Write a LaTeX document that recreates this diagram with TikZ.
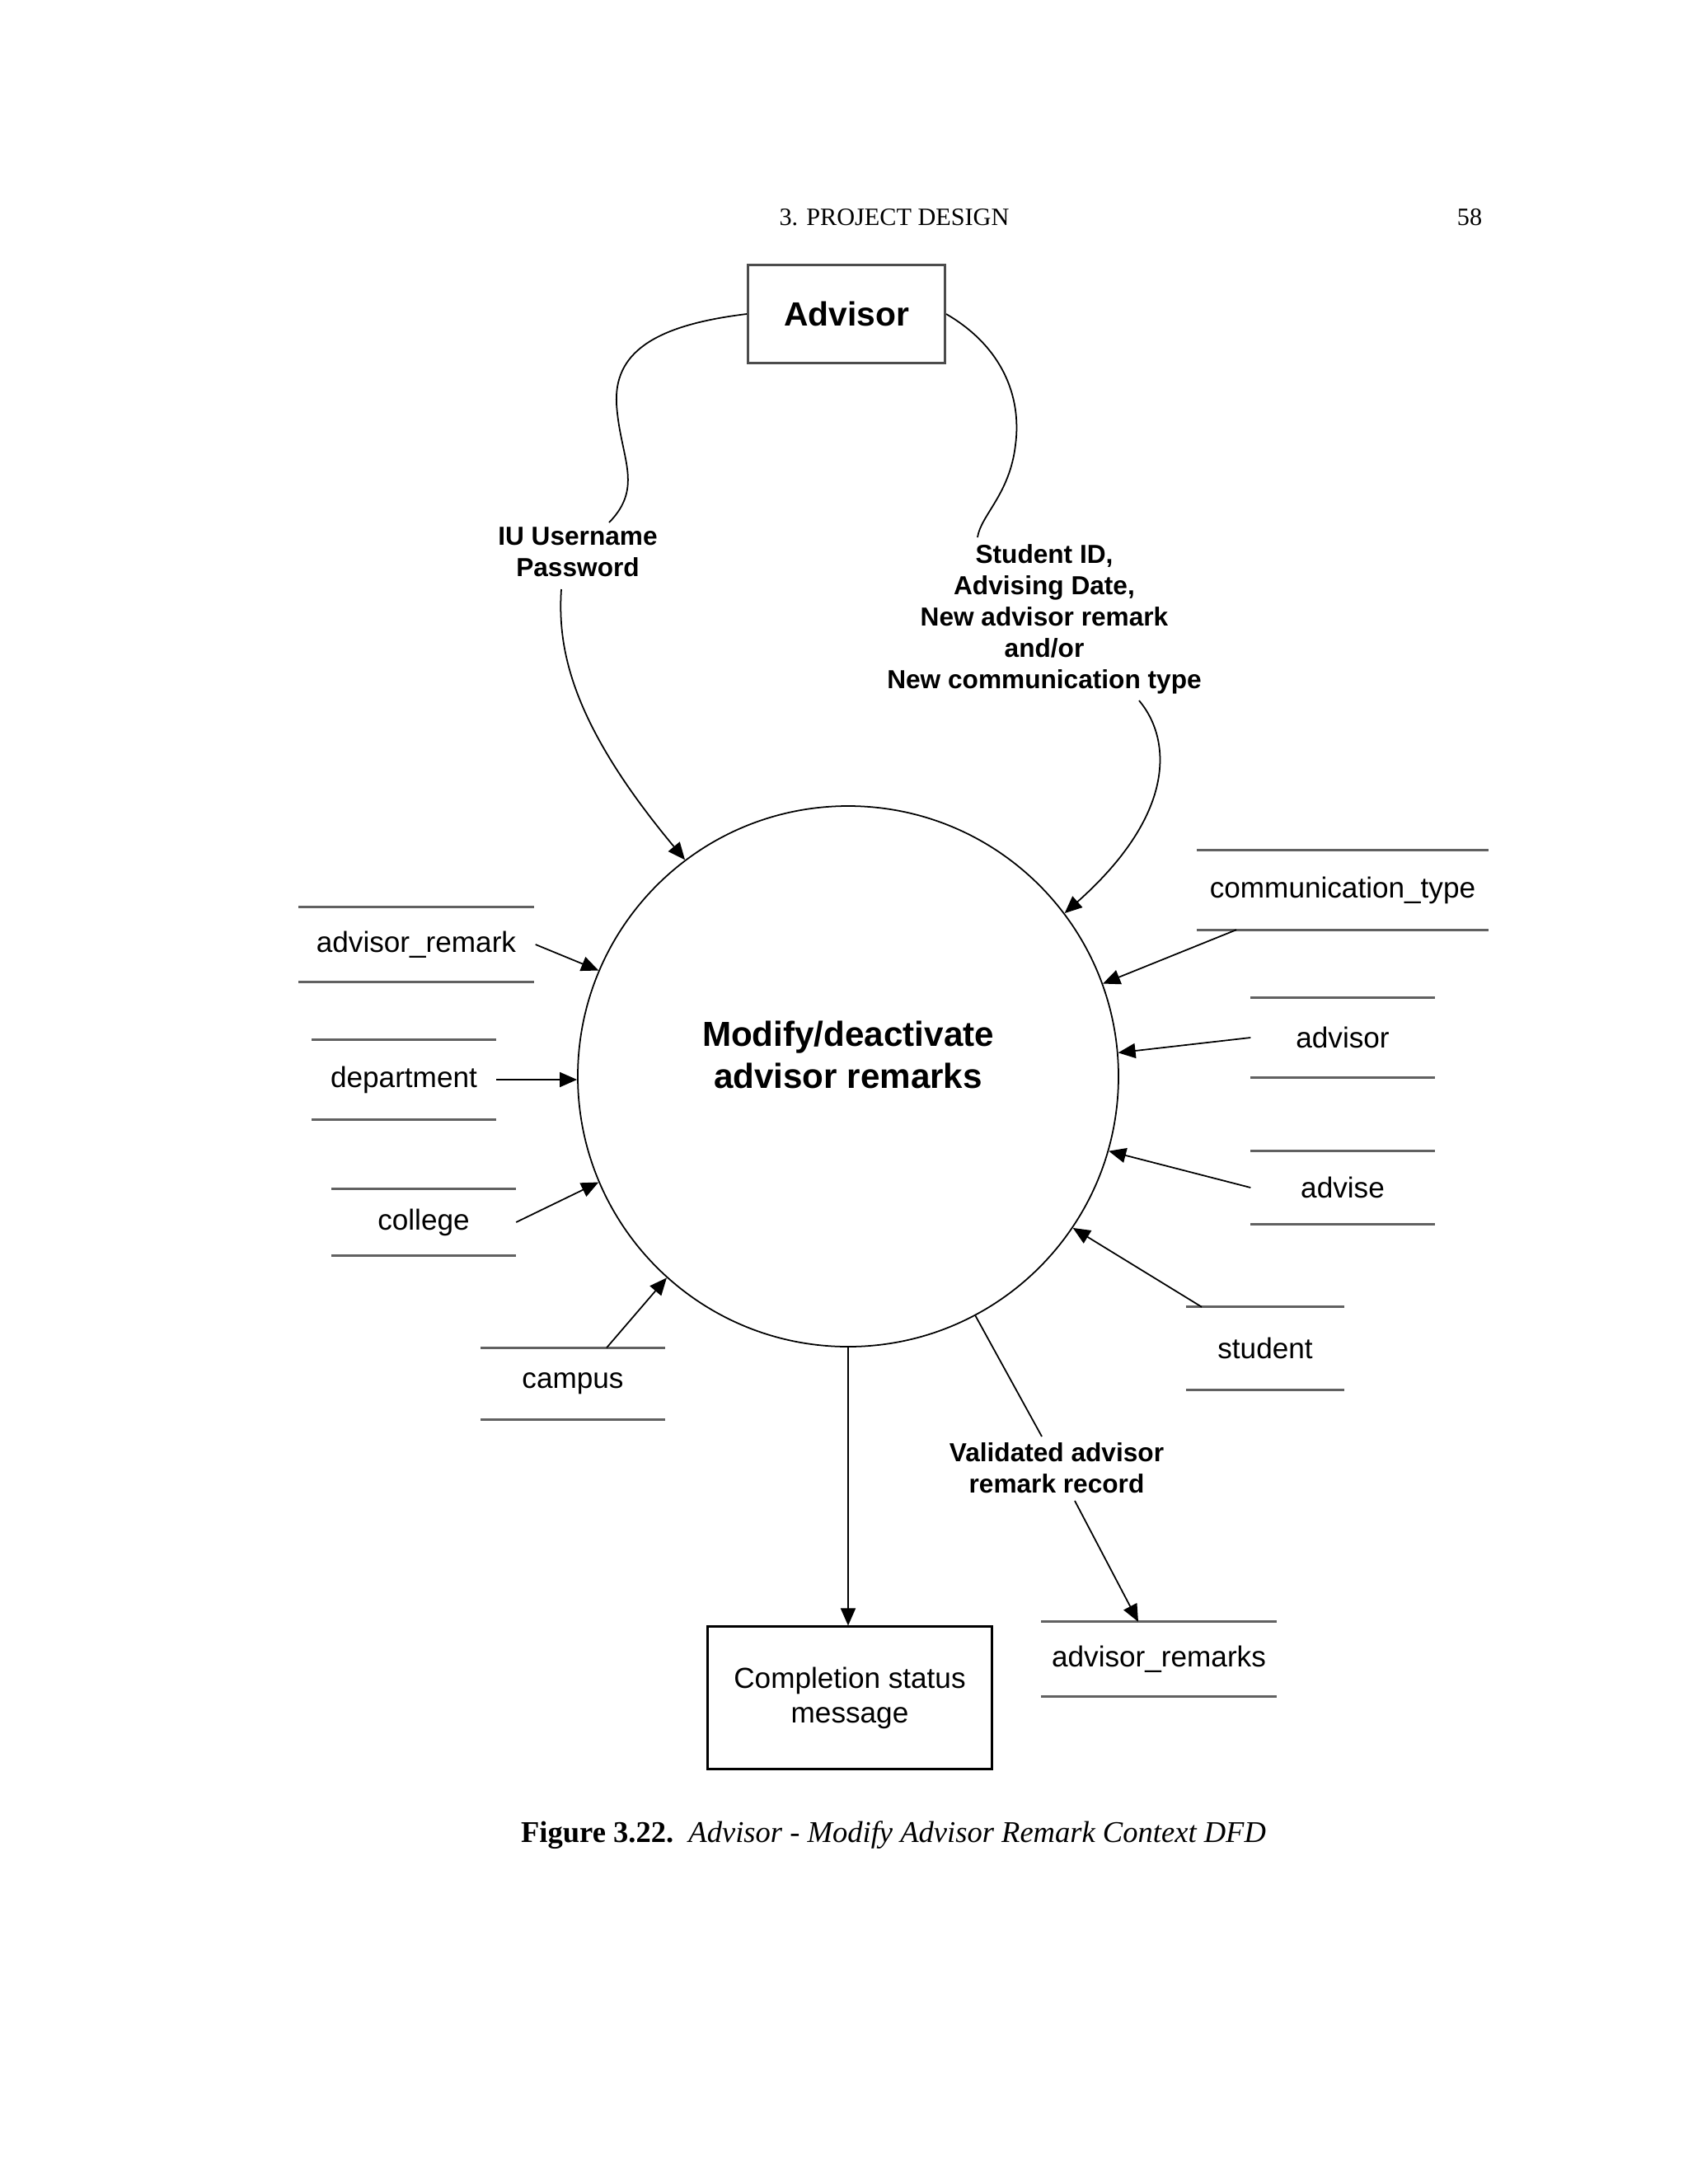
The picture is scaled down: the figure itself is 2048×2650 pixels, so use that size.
\documentclass[tikz,border=0pt]{standalone}
\usepackage{fontspec}
\setmainfont{Liberation Serif}
\setsansfont{Liberation Sans}
\usetikzlibrary{arrows.meta,calc}
\newcommand\storelines[1]{\draw[sline] (#1.north west) -- (#1.north east) (#1.south west) -- (#1.south east);}
\begin{document}
\begin{tikzpicture}[x=0.1mm,y=-0.1mm,
  conn/.style={draw=black, line width=0.5pt},
  arr/.style={conn,-{Triangle[length=2.1mm,width=1.8mm]}},
  store/.style={inner sep=0pt, font=\sffamily\fontsize{10}{12}\selectfont},
  sline/.style={draw=black!62, line width=0.85pt},
  flow/.style={font=\sffamily\bfseries\fontsize{9}{10.8}\selectfont, align=center, inner sep=1pt},
]
\useasboundingbox (0,0) rectangle (2048,2650);

% header and caption
\node[font=\fontsize{8.6}{10}\selectfont] (hdr) at (1085,264) {3. PROJECT DESIGN};
\node[font=\fontsize{8.6}{10}\selectfont] (pg) at (1783,264) {58};
\node[font=\fontsize{10.4}{12}\selectfont] (cap) at (1084,2227) {\textbf{Figure 3.22.}\enspace\textit{Advisor - Modify Advisor Remark Context DFD}};

% external entity and process
\node[draw=black!70, line width=0.85pt, minimum width=23.9mm, minimum height=11.9mm, inner sep=0pt,
      font=\sffamily\bfseries\fontsize{11.6}{14}\selectfont] (adv) at (1027,381) {Advisor};
\node[circle, draw, line width=0.5pt, minimum size=65.6mm, inner sep=0pt] (circ) at (1029,1306) {};
\node[font=\sffamily\bfseries\fontsize{12}{14.5}\selectfont, align=center] (ptxt) at (1029,1280) {Modify/deactivate\\advisor remarks};

% flow labels
\node[flow] (iu) at (701,670) {IU Username\\Password};
\node[flow] (sid) at (1267,751) {Student ID,\\Advising Date,\\New advisor remark\\and/or\\New communication type};
\node[flow] (val) at (1282,1781) {Validated advisor\\remark record};

% data stores
\node[store, minimum width=28.4mm, minimum height=8.9mm] (ar) at (505,1146) {advisor\_remark};
\node[store, minimum width=22.3mm, minimum height=9.5mm] (dep) at (490,1310) {department};
\node[store, minimum width=22.3mm, minimum height=7.9mm] (col) at (514,1483) {college};
\node[store, minimum width=22.2mm, minimum height=8.6mm] (camp) at (695,1679) {campus};
\node[store, minimum width=35.2mm, minimum height=9.5mm] (ct) at (1629,1080) {communication\_type};
\node[store, minimum width=22.2mm, minimum height=9.5mm] (advs) at (1629,1259) {advisor};
\node[store, minimum width=22.2mm, minimum height=8.7mm] (adse) at (1629,1441) {advise};
\node[store, minimum width=19.0mm, minimum height=9.9mm] (stu) at (1535,1636) {student};
\node[store, minimum width=28.4mm, minimum height=8.9mm] (arm) at (1406,2013) {advisor\_remarks};
\storelines{ar}
\storelines{dep}
\storelines{col}
\storelines{camp}
\storelines{ct}
\storelines{advs}
\storelines{adse}
\storelines{stu}
\storelines{arm}

% completion box
\node[draw, line width=0.6pt, minimum width=34.5mm, minimum height=17.3mm, inner sep=0pt, align=center,
      font=\sffamily\fontsize{10}{12}\selectfont] (cbox) at (1031,2060) {Completion status\\message};

% curved flows from Advisor
\draw[conn] (adv.west) .. controls (790,395) and (745,430) .. (748,490)
            .. controls (752,555) and (782,590) .. ($(iu)+(38,-36)$);
\draw[arr] ($(iu)+(-20,45)$) .. controls (676,790) and (695,880) .. (circ.127.4);
\draw[conn] (adv.east) .. controls (1215,420) and (1240,480) .. (1232,540)
            .. controls (1225,600) and (1190,625) .. ($(sid)+(-81,-99)$);
\draw[arr] ($(sid)+(115,99)$) .. controls (1420,895) and (1430,985) .. (circ.37.7);

% store flows
\draw[arr] ([xshift=0.2mm]ar.east) -- (circ.157.4);
\draw[arr] (dep.east) -- (dep.east -| circ.west);
\draw[arr] (col.east) -- (circ.203.8);
\draw[arr] ($(camp.north)+(41,0)$) -- (circ.228.5);
\draw[arr] ($(ct.south)+(-129,0)$) -- (circ.20.6);
\draw[arr] (advs.west) -- (circ.5.5);
\draw[arr] (adse.west) -- (circ.344.7);
\draw[arr] ($(stu.north)+(-77,0)$) -- (circ.326.7);

% outputs
\draw[arr] (circ.south) -- (circ.south |- cbox.north);
\draw[conn] (circ.298.4) -- ($(val)+(-18,-38)$);
\draw[arr] ($(val)+(22,40)$) -- ($(arm.north)+(-25,0)$);
\end{tikzpicture}
\end{document}
